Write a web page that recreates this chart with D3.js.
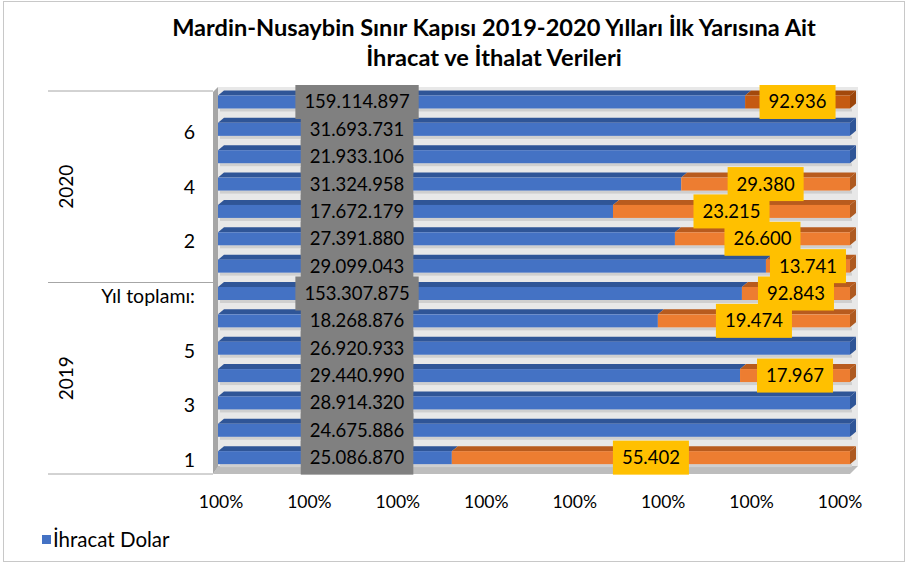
<!DOCTYPE html>
<html>
<head>
<meta charset="utf-8">
<script src="https://cdn.jsdelivr.net/npm/d3@7"></script>
<style>
  body { margin: 0; background: #fff; }
  text { font-family: Lato, "Noto Sans", sans-serif; fill: #000; }
</style>
</head>
<body>
<div id="chart"></div>
<script>
// data
const yillar = ["2019", "2020"];
const aylar = ["1", "2", "3", "4", "5", "6", "Yıl toplamı:"];
const ihracat2019 = [25086870, 24675886, 28914320, 29440990, 26920933, 18268876, 153307875];
const ithalat2019 = [55402, null, null, 17967, null, 19474, 92843];
const ihracat2020 = [29099043, 27391880, 17672179, 31324958, 21933106, 31693731, 159114897];
const ithalat2020 = [13741, 26600, 23215, 29380, null, null, 92936];
// share of the bar drawn blue (%), as it appears in the chart
const ihracatPay2019 = [37.0, 100, 100, 82.6, 100, 69.6, 82.9];
const ihracatPay2020 = [86.7, 72.3, 62.5, 73.3, 100, 100, 83.4];
const xTickLabels = ["100%", "100%", "100%", "100%", "100%", "100%", "100%", "100%"];

const tr = d3.formatLocale({ decimal: ",", thousands: ".", grouping: [3], currency: ["", ""] });
const fmt = tr.format(",d");

// rows top to bottom
const rows = [];
[[yillar[1], ihracat2020, ithalat2020, ihracatPay2020], [yillar[0], ihracat2019, ithalat2019, ihracatPay2019]]
  .forEach(([yil, ihr, ith, pay]) => {
    for (let i = aylar.length - 1; i >= 0; i--) {
      rows.push({ key: yil + "-" + aylar[i], yil, ay: aylar[i], ihr: ihr[i], ith: ith[i], pay: pay[i] });
    }
  });

const width = 909, height = 565;
const svg = d3.select("#chart").append("svg")
  .attr("width", width).attr("height", height);

svg.append("rect")
  .attr("x", 3.5).attr("y", 1.5).attr("width", 901).attr("height", 560)
  .attr("fill", "#fff").attr("stroke", "#c8c8c8");

// title
const title = svg.append("text")
  .attr("text-anchor", "middle")
  .style("font-weight", "bold").style("font-size", "23.6px");
title.append("tspan").attr("x", 494).attr("y", 36)
  .text("Mardin-Nusaybin Sınır Kapısı 2019-2020 Yılları İlk Yarısına Ait");
title.append("tspan").attr("x", 494).attr("y", 66)
  .text("İhracat ve İthalat Verileri");

const y = d3.scaleBand().domain(rows.map(d => d.key)).range([91, 474]);
const x = d3.scaleLinear().domain([0, 100]).range([218, 850]);
const dx = 6, dy = -5;   // 3d depth offset
const faceTop = 4.5, faceH = 13;

// walls
svg.append("polygon")
  .attr("points", [[218, 87], [858, 87], [858, 466], [218, 466]].join(" "))
  .attr("fill", "#e8e8e8");
svg.append("polygon")
  .attr("points", [[213, 92], [218, 87], [218, 467], [213, 474]].join(" "))
  .attr("fill", "#a6a6a6");
svg.append("polygon")
  .attr("points", [[213, 474], [218, 466], [858, 466], [850, 474]].join(" "))
  .attr("fill", "#bdbdbd");

// category axis lines
const lineYs = [91, y(yillar[1] + "-1") + y.bandwidth(), 474];
svg.selectAll(".catline").data(lineYs).enter().append("line")
  .attr("x1", 48).attr("x2", 213)
  .attr("y1", d => d).attr("y2", d => d)
  .attr("stroke", "#a6a6a6");

const colors = {
  ihr: { face: "#4472c4", top: "#2f5597", side: "#2f5597" },
  ith: { face: "#ed7d31", top: "#b85b1e", side: "#ae5a21" },
  ithTop: { face: "#c55a11", top: "#a3490c", side: "#9c460b" }
};

rows.forEach((r, i) => {
  const y0 = y(r.key) + faceTop;
  const segs = [{ s: 0, e: r.pay, c: colors.ihr }];
  if (r.pay < 100) segs.push({ s: r.pay, e: 100, c: i === 0 ? colors.ithTop : colors.ith });
  const g = svg.append("g");
  // shadow under bar
  g.append("rect").attr("x", x(0) + 2).attr("y", y0 + faceH)
    .attr("width", x(100) - x(0)).attr("height", 3).attr("fill", "#cfcfcf");
  segs.forEach(sg => {
    g.append("polygon")
      .attr("points", [[x(sg.s), y0], [x(sg.s) + dx, y0 + dy], [x(sg.e) + dx, y0 + dy], [x(sg.e), y0]].join(" "))
      .attr("fill", sg.c.top);
    g.append("rect")
      .attr("x", x(sg.s)).attr("y", y0)
      .attr("width", x(sg.e) - x(sg.s)).attr("height", faceH)
      .attr("fill", sg.c.face);
  });
  const last = segs[segs.length - 1];
  g.append("polygon")
    .attr("points", [[x(100), y0], [x(100) + dx, y0 + dy], [x(100) + dx, y0 + faceH + dy], [x(100), y0 + faceH]].join(" "))
    .attr("fill", last.c.side);
});

// data labels
function label(cx, cy, txt, fill) {
  const g = svg.append("g");
  const t = g.append("text")
    .attr("x", cx).attr("y", cy).attr("dy", "0.35em")
    .attr("text-anchor", "middle").style("font-size", "18.5px")
    .text(txt);
  const w = t.node().getComputedTextLength() + 18;
  g.insert("rect", "text")
    .attr("x", cx - w / 2).attr("y", cy - 17)
    .attr("width", w).attr("height", 34)
    .attr("fill", fill);
}
rows.forEach(r => {
  const cy = y(r.key) + faceTop + faceH / 2;
  label(x(22), cy, fmt(r.ihr), "#808080");
});
rows.forEach(r => {
  if (r.ith == null) return;
  const cy = y(r.key) + faceTop + faceH / 2;
  label(x((r.pay + 100) / 2), cy, fmt(r.ith), "#ffc000");
});

// y labels, every other row
rows.forEach((r, i) => {
  if ((rows.length - 1 - i) % 2 !== 0) return;
  svg.append("text")
    .attr("x", 195).attr("y", y(r.key) + y.bandwidth() / 2).attr("dy", "0.35em")
    .attr("text-anchor", "end").style("font-size", "19.5px")
    .text(r.ay);
});

// year labels
yillar.forEach(yil => {
  const keys = rows.filter(r => r.yil === yil).map(r => r.key);
  const cy = (y(keys[0]) + y(keys[keys.length - 1]) + y.bandwidth()) / 2;
  svg.append("text")
    .attr("transform", `translate(66,${cy}) rotate(-90)`)
    .attr("dy", "0.35em").attr("text-anchor", "middle")
    .style("font-size", "19px").text(yil);
});

// x axis labels
const xt = d3.scalePoint().domain(d3.range(xTickLabels.length)).range([221, 840]);
svg.selectAll(".xt").data(xTickLabels).enter().append("text")
  .attr("x", (d, i) => xt(i)).attr("y", 502).attr("dy", "0.35em")
  .attr("text-anchor", "middle").style("font-size", "17.5px")
  .text(d => d);

// legend
svg.append("rect").attr("x", 42).attr("y", 535).attr("width", 9).attr("height", 9)
  .attr("fill", colors.ihr.face);
svg.append("text").attr("x", 53).attr("y", 540).attr("dy", "0.35em")
  .style("font-size", "20.5px").text("İhracat Dolar");
</script>
</body>
</html>
